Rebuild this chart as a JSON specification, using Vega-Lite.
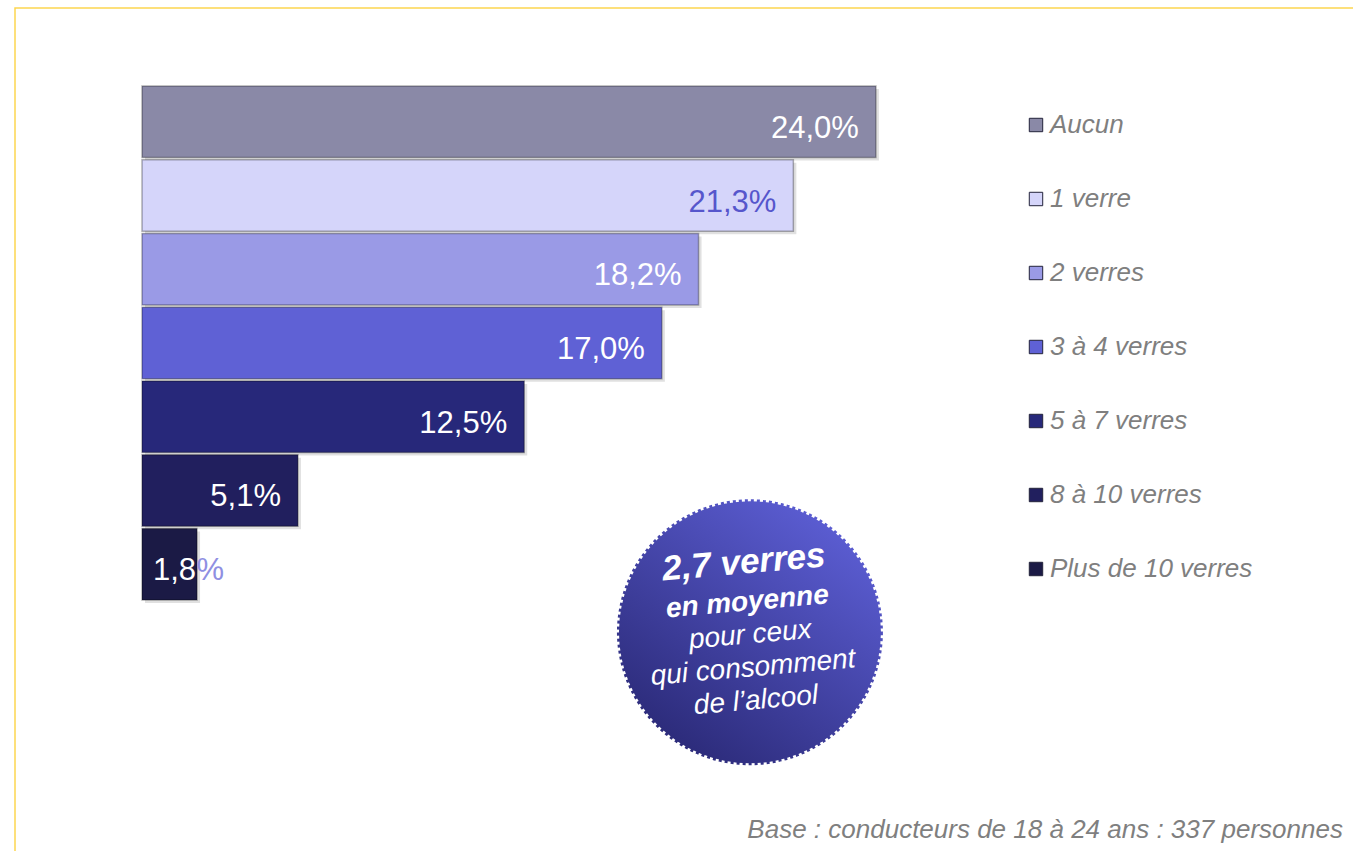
{
  "$schema": "https://vega.github.io/schema/vega-lite/v6.json",
  "autosize": {"type": "fit", "contains": "padding"},
  "width": 1353,
  "height": 851,
  "padding": {"left": 15, "top": 8, "right": -2, "bottom": -2},
  "background": "white",
  "config": {
    "view": {"stroke": "#fdd650", "strokeWidth": 1.5},
    "font": "Liberation Sans",
    "legend": {
      "title": null,
      "orient": "none",
      "legendX": 1008,
      "legendY": 104,
      "symbolType": "square",
      "symbolSize": 180,
      "symbolStrokeWidth": 1,
      "symbolStrokeColor": "#22223a",
      "labelFontSize": 26,
      "labelFont": "Liberation Sans",
      "labelFontStyle": "italic",
      "labelColor": "#7f7f7f",
      "labelLimit": 400,
      "rowPadding": 48,
      "labelOffset": 1,
      "padding": 0
    }
  },
  "data": {
    "values": [
      {"cat": "Aucun", "pct": 24.0, "label": "24,0%"},
      {"cat": "1 verre", "pct": 21.3, "label": "21,3%"},
      {"cat": "2 verres", "pct": 18.2, "label": "18,2%"},
      {"cat": "3 à 4 verres", "pct": 17.0, "label": "17,0%"},
      {"cat": "5 à 7 verres", "pct": 12.5, "label": "12,5%"},
      {"cat": "8 à 10 verres", "pct": 5.1, "label": "5,1%"},
      {"cat": "Plus de 10 verres", "pct": 1.8, "label": "1,8%"}
    ]
  },
  "encoding": {
    "y": {
      "field": "cat",
      "type": "nominal",
      "sort": null,
      "scale": {
        "type": "band",
        "domain": ["Aucun", "1 verre", "2 verres", "3 à 4 verres", "5 à 7 verres", "8 à 10 verres", "Plus de 10 verres"],
        "range": [78, 592],
        "paddingInner": 0.03,
        "paddingOuter": 0
      },
      "axis": null
    }
  },
  "layer": [
    {
      "mark": {"type": "bar", "color": "#000000", "opacity": 0.12, "xOffset": 3, "x2Offset": 3, "yOffset": 3, "y2Offset": 3},
      "encoding": {
        "x": {"field": "pct", "type": "quantitative", "scale": {"domain": [-4.153, 39.666], "nice": false, "zero": false}, "axis": null},
        "x2": {"datum": 0}
      }
    },
    {
      "mark": {"type": "bar", "strokeWidth": 1.5, "stroke": "#000000", "strokeOpacity": 0.3},
      "encoding": {
        "x": {"field": "pct", "type": "quantitative", "scale": {"domain": [-4.153, 39.666], "nice": false, "zero": false}, "axis": null},
        "x2": {"datum": 0},
        "color": {
          "field": "cat",
          "type": "nominal",
          "sort": null,
          "scale": {
            "domain": ["Aucun", "1 verre", "2 verres", "3 à 4 verres", "5 à 7 verres", "8 à 10 verres", "Plus de 10 verres"],
            "range": ["#8a89a7", "#d5d5fa", "#9a9ae6", "#5f61d5", "#27287a", "#211f5e", "#1b1a45"]
          }
        }
      }
    },
    {
      "transform": [{"filter": "datum.pct >= 3"}],
      "mark": {"type": "text", "align": "right", "baseline": "alphabetic", "dx": -17, "dy": 16, "fontSize": 31, "font": "Liberation Sans"},
      "encoding": {
        "x": {"field": "pct", "type": "quantitative"},
        "text": {"field": "label"},
        "color": {"condition": {"test": "datum.cat === '1 verre'", "value": "#5656cc"}, "value": "#ffffff"}
      }
    },
    {
      "transform": [{"filter": "datum.pct < 3"}],
      "mark": {"type": "text", "align": "left", "baseline": "alphabetic", "dx": 11, "dy": 16, "fontSize": 31, "font": "Liberation Sans", "color": "#ffffff"},
      "encoding": {
        "x": {"datum": 0},
        "text": {"value": "1,8"}
      }
    },
    {
      "transform": [{"filter": "datum.pct < 3"}],
      "mark": {"type": "text", "align": "left", "baseline": "alphabetic", "dx": 54.5, "dy": 16, "fontSize": 31, "font": "Liberation Sans", "color": "#8f8fe2"},
      "encoding": {
        "x": {"datum": 0},
        "text": {"value": "%"}
      }
    },
    {
      "data": {"values": [{}]},
      "mark": {
        "type": "point",
        "shape": "circle",
        "filled": true,
        "size": 68644,
        "yOffset": 68,
        "fill": {"gradient": "linear", "x1": 0.85, "y1": 0.05, "x2": 0.2, "y2": 0.95, "stops": [{"offset": 0, "color": "#5d5fd6"}, {"offset": 1, "color": "#2b2a78"}]},
        "stroke": {"gradient": "linear", "x1": 0.85, "y1": 0.05, "x2": 0.2, "y2": 0.95, "stops": [{"offset": 0, "color": "#5d5fd6"}, {"offset": 1, "color": "#2b2a78"}]},
        "strokeWidth": 4,
        "strokeDash": [3, 3],
        "opacity": 1
      },
      "encoding": {
        "x": {"datum": 19.88},
        "y": {"datum": "Plus de 10 verres"}
      }
    },
    {
      "data": {"values": [{}]},
      "mark": {"type": "text", "align": "center", "baseline": "alphabetic", "angle": -5, "yOffset": 68, "dy": -59, "fontSize": 35, "fontWeight": "bold", "fontStyle": "italic", "color": "#ffffff", "font": "Liberation Sans"},
      "encoding": {"x": {"datum": 19.88}, "y": {"datum": "Plus de 10 verres"}, "text": {"value": "2,7 verres"}}
    },
    {
      "data": {"values": [{}]},
      "mark": {"type": "text", "align": "center", "baseline": "alphabetic", "angle": -5, "yOffset": 68, "dy": -22, "fontSize": 28, "fontWeight": "bold", "fontStyle": "italic", "color": "#ffffff", "font": "Liberation Sans"},
      "encoding": {"x": {"datum": 19.88}, "y": {"datum": "Plus de 10 verres"}, "text": {"value": "en moyenne"}}
    },
    {
      "data": {"values": [{}]},
      "mark": {"type": "text", "align": "center", "baseline": "alphabetic", "angle": -5, "yOffset": 68, "dy": 11, "fontSize": 28, "fontStyle": "italic", "color": "#ffffff", "font": "Liberation Sans", "lineHeight": 33},
      "encoding": {"x": {"datum": 19.88}, "y": {"datum": "Plus de 10 verres"}, "text": {"value": ["pour ceux", "qui consomment", "de l’alcool"]}}
    },
    {
      "data": {"values": [{}]},
      "mark": {"type": "text", "align": "right", "baseline": "alphabetic", "yOffset": 274, "fontSize": 26, "fontStyle": "italic", "color": "#7f7f7f", "font": "Liberation Sans"},
      "encoding": {"x": {"datum": 39.27}, "y": {"datum": "Plus de 10 verres"}, "text": {"value": "Base : conducteurs de 18 à 24 ans : 337 personnes"}}
    }
  ]
}
